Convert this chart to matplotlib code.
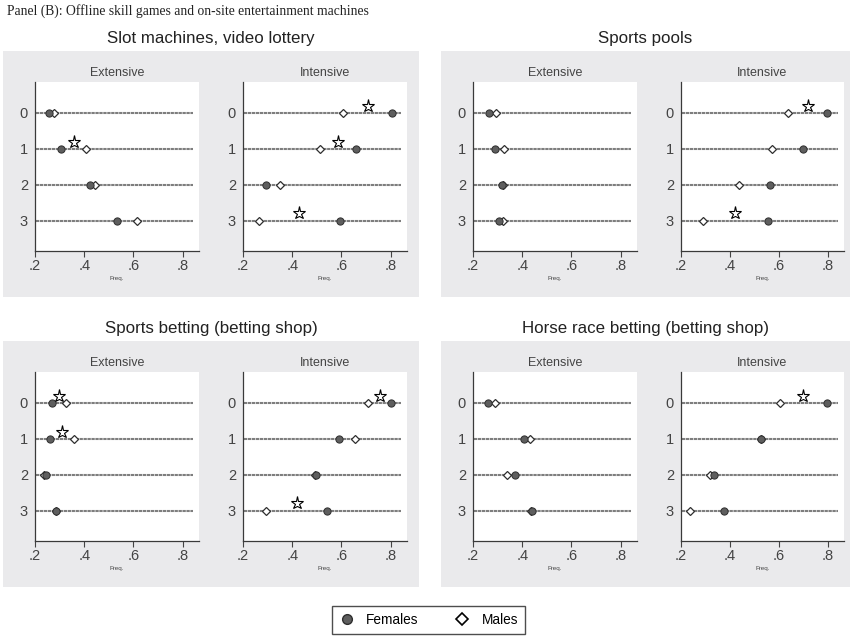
import matplotlib
matplotlib.use('Agg')
import matplotlib.pyplot as plt
from matplotlib.patches import Rectangle
from matplotlib.lines import Line2D

plt.rcParams['font.family'] = ['Liberation Sans', 'DejaVu Sans']

W, H = 850, 637
PANEL_BG = '#EAEAEC'
FEM_C = '#5E5E5E'
EDGE = '#2E2E2E'
LINE_C = '#7E7E7E'
TXT_C = '#444444'

# ---- data ----
rows = [0, 1, 2, 3]
row_labels = ['0', '1', '2', '3']
xticks = [0.2, 0.4, 0.6, 0.8]
xtick_labels = ['.2', '.4', '.6', '.8']
sub_titles = ['Extensive', 'Intensive']
games = ['Slot machines, video lottery', 'Sports pools',
         'Sports betting (betting shop)', 'Horse race betting (betting shop)']

slot_ext_fem = [0.258, 0.307, 0.424, 0.535]
slot_ext_male = [0.277, 0.407, 0.444, 0.613]
slot_ext_sig = [1]
slot_int_fem = [0.807, 0.657, 0.292, 0.595]
slot_int_male = [0.607, 0.514, 0.351, 0.263]
slot_int_sig = [0, 1, 3]

pools_ext_fem = [0.264, 0.288, 0.317, 0.307]
pools_ext_male = [0.293, 0.326, 0.321, 0.321]
pools_ext_sig = []
pools_int_fem = [0.795, 0.697, 0.563, 0.556]
pools_int_male = [0.639, 0.573, 0.435, 0.288]
pools_int_sig = [0, 3]

shop_ext_fem = [0.270, 0.260, 0.245, 0.285]
shop_ext_male = [0.326, 0.358, 0.238, 0.287]
shop_ext_sig = [0, 1]
shop_int_fem = [0.803, 0.590, 0.496, 0.541]
shop_int_male = [0.708, 0.655, 0.492, 0.294]
shop_int_sig = [0, 3]

horse_ext_fem = [0.261, 0.408, 0.371, 0.440]
horse_ext_male = [0.288, 0.430, 0.338, 0.436]
horse_ext_sig = []
horse_int_fem = [0.796, 0.527, 0.333, 0.375]
horse_int_male = [0.604, 0.527, 0.317, 0.237]
horse_int_sig = [0]

panel_data = [
    [(slot_ext_fem, slot_ext_male, slot_ext_sig), (slot_int_fem, slot_int_male, slot_int_sig)],
    [(pools_ext_fem, pools_ext_male, pools_ext_sig), (pools_int_fem, pools_int_male, pools_int_sig)],
    [(shop_ext_fem, shop_ext_male, shop_ext_sig), (shop_int_fem, shop_int_male, shop_int_sig)],
    [(horse_ext_fem, horse_ext_male, horse_ext_sig), (horse_int_fem, horse_int_male, horse_int_sig)],
]

fig = plt.figure(figsize=(W / 100, H / 100), dpi=100)
fig.patch.set_facecolor('white')


def fx(x):
    return x / W


def fy(y):
    return 1 - y / H


def box(x0, y0, x1, y1):
    """grey panel background, pixel coords from top-left"""
    fig.add_artist(Rectangle((fx(x0), fy(y1)), fx(x1) - fx(x0), fy(y0) - fy(y1),
                             transform=fig.transFigure, facecolor=PANEL_BG,
                             edgecolor='none', zorder=0))


def dot_axes(x0, y0, x1, y1, fem, male, sig, title):
    ax = fig.add_axes([fx(x0), fy(y1), fx(x1) - fx(x0), fy(y0) - fy(y1)])
    ax.set_facecolor('white')
    ax.hlines(rows, 0.203, 0.84, color=LINE_C, lw=1.5, linestyles=(0, (1.6, 0.3)), zorder=1)
    ax.plot(male, rows, ls='none', marker='D', ms=3.6, mfc='white', mec=EDGE, mew=0.9, zorder=3)
    ax.plot(fem, rows, ls='none', marker='o', ms=5.2, mfc=FEM_C, mec=EDGE, mew=0.7, zorder=4)
    if sig:
        sx = [(fem[r] + male[r]) / 2 for r in sig]
        sy = [r - 0.2 for r in sig]
        ax.plot(sx, sy, ls='none', marker='*', ms=9.5, mfc='white', mec='black', mew=0.8, zorder=5)
    ax.set_xlim(0.2, 0.866)
    ax.set_ylim(3.85, -0.86)
    ax.set_xticks(xticks)
    ax.set_xticklabels(xtick_labels)
    ax.set_yticks(rows)
    ax.set_yticklabels(row_labels)
    ax.tick_params(axis='both', labelsize=10.5, colors=TXT_C, length=4, width=0.8, pad=2)
    ax.tick_params(axis='y', length=0, pad=5)
    for s in ['top', 'right']:
        ax.spines[s].set_visible(False)
    for s in ['left', 'bottom']:
        ax.spines[s].set_color('#3A3A3A')
        ax.spines[s].set_linewidth(0.9)
    ax.set_xlabel('Freq.', fontsize=4.5, color=TXT_C, labelpad=2)
    ax.set_title(title, fontsize=9, color=TXT_C, pad=4)
    return ax


# pixel layout: grey boxes per column, axes spans per column, per row y-extents and title y
cols = [(3, 419, [(35, 199), (243, 407)]), (441, 850, [(473, 637), (681, 844)])]
rws = [(51, 297, 82, 251, 39), (341, 587, 372, 541, 328)]

k = 0
for ri, (by0, by1, ay0, ay1, ty) in enumerate(rws):
    for ci, (bx0, bx1, axes_x) in enumerate(cols):
        box(bx0, by0, bx1, by1)
        fig.text(fx((bx0 + bx1) / 2), fy(ty), games[k], ha='center', va='center',
                 fontsize=12.2, color='#222222')
        for j, (ax0, ax1) in enumerate(axes_x):
            fem, male, sig = panel_data[k][j]
            dot_axes(ax0, ay0, ax1, ay1, fem, male, sig, sub_titles[j])
        k += 1

fig.text(fx(7), fy(11), 'Panel (B): Offline skill games and on-site entertainment machines',
         ha='left', va='center', fontsize=9.8, family=['Liberation Serif', 'DejaVu Serif'],
         color='#222222')

# legend
handles = [Line2D([], [], ls='none', marker='o', ms=7, mfc=FEM_C, mec=EDGE, mew=1.0),
           Line2D([], [], ls='none', marker='D', ms=6, mfc='white', mec='black', mew=1.2)]
leg = fig.legend(handles, ['Females', 'Males'], loc='center', bbox_to_anchor=(fx(428.5), fy(620)),
                 ncol=2, fontsize=9.8, frameon=True, fancybox=False, edgecolor='#222222',
                 handletextpad=0.8, columnspacing=2.6, borderpad=0.5, handlelength=1.2)
leg.get_frame().set_linewidth(1.0)

fig.savefig('out.png', dpi=100, facecolor='white')
